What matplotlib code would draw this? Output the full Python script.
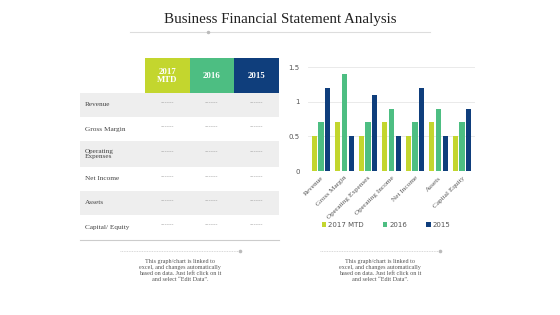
import matplotlib
matplotlib.use("Agg")
import matplotlib.pyplot as plt
import numpy as np

categories = ["Revenue", "Gross Margin", "Operating Expenses", "Operating Income",
              "Net Income", "Assets", "Capital Equity"]
series_names = ["2017 MTD", "2016", "2015"]
v2017 = [0.5, 0.7, 0.5, 0.7, 0.5, 0.7, 0.5]
v2016 = [0.7, 1.4, 0.7, 0.9, 0.7, 0.9, 0.7]
v2015 = [1.2, 0.5, 1.1, 0.5, 1.2, 0.5, 0.9]
yticks = [0, 0.5, 1, 1.5]
ytick_labels = ["0", "0.5", "1", "1.5"]

table_headers = ["2017\nMTD", "2016", "2015"]
table_rows = ["Revenue", "Gross Margin", "Operating\nExpenses", "Net Income", "Assets", "Capital/ Equity"]
table_cell = "------"

title = "Business Financial Statement Analysis"
note = "This graph/chart is linked to\nexcel, and changes automatically\nbased on data. Just left click on it\nand select \u201cEdit Data\u201d."

colors = ["#C3D62E", "#4DBE82", "#0F3E7C"]
W, H = 560, 315

fig = plt.figure(figsize=(W / 100, H / 100), dpi=100)
fig.patch.set_facecolor("white")

ov = fig.add_axes([0, 0, 1, 1])
ov.set_xlim(0, W)
ov.set_ylim(H, 0)
ov.axis("off")

serif = ["Liberation Serif", "DejaVu Serif"]

ov.text(280, 20, title, ha="center", va="center", fontsize=10.8, family=serif, color="#222222")
ov.plot([130, 430], [32, 32], color="#DDDDDD", lw=0.8)
ov.plot([208], [32], marker="o", ms=1.5, color="#BBBBBB")

hx = [145, 189.5, 234, 279]
for i, h in enumerate(table_headers):
    ov.add_patch(plt.Rectangle((hx[i], 58), hx[i + 1] - hx[i], 35, color=colors[i], lw=0))
    ov.text((hx[i] + hx[i + 1]) / 2, 75.5, h, ha="center", va="center", fontsize=6.3,
            color="white", family=serif, fontweight="bold", linespacing=1.0)
row_edges = [93, 117, 141, 167, 191, 215, 239]
for r, lab in enumerate(table_rows):
    y0, y1 = row_edges[r], row_edges[r + 1]
    if r % 2 == 0:
        ov.add_patch(plt.Rectangle((80, y0), 199, y1 - y0, color="#EEEEEE", lw=0))
    yc = (y0 + y1) / 2
    ov.text(85, yc, lab, ha="left", va="center", fontsize=5.2, family=serif,
            color="#444444", linespacing=1.2)
    for i in range(3):
        ov.text((hx[i] + hx[i + 1]) / 2, yc - 2, table_cell, ha="center", va="center",
                fontsize=4.6, color="#999999")
ov.plot([80, 279], [239.5, 239.5], color="#CCCCCC", lw=0.8)

for cx, lx0, lx1 in [(180, 120, 240), (380, 320, 440)]:
    ov.plot([lx0, lx1], [251, 251], color="#CCCCCC", lw=0.6, ls=(0, (1, 1)))
    ov.plot([lx1], [251], marker="o", ms=1.6, color="#BBBBBB")
    ov.text(cx, 270.5, note, ha="center", va="center", fontsize=4.4, family=serif,
            color="#555555", linespacing=1.25)

ax = fig.add_axes([308 / W, 1 - 171 / H, (475 - 308) / W, (171 - 67) / H])
x = np.arange(len(categories))
bw = 0.22
off = 0.285
for k, vals in enumerate([v2017, v2016, v2015]):
    ax.bar(x + (k - 1) * off, vals, bw, color=colors[k], label=series_names[k], zorder=3)
ax.set_xlim(-0.55, len(categories) - 0.45)
ax.set_ylim(0, 1.5)
ax.set_yticks(yticks)
ax.set_yticklabels(ytick_labels)
ax.yaxis.grid(True, color="#E6E6E6", lw=0.6, zorder=0)
for s in ax.spines.values():
    s.set_visible(False)
ax.tick_params(axis="both", length=0, labelsize=5, colors="#555555", pad=3)
ax.set_xticks(x)
ax.set_xticklabels(categories, rotation=45, ha="right", rotation_mode="anchor",
                   fontsize=5.2, family=serif, color="#555555")
ax.tick_params(axis="y", pad=6)
leg = ax.legend(loc="center", bbox_to_anchor=(386 / W, 1 - 225 / H),
                bbox_transform=fig.transFigure, ncol=3, frameon=False, fontsize=5,
                handlelength=0.6, handleheight=0.6, columnspacing=2.8, handletextpad=0.3)
for t in leg.get_texts():
    t.set_color("#555555")

fig.savefig("out.png", dpi=100, facecolor="white")
